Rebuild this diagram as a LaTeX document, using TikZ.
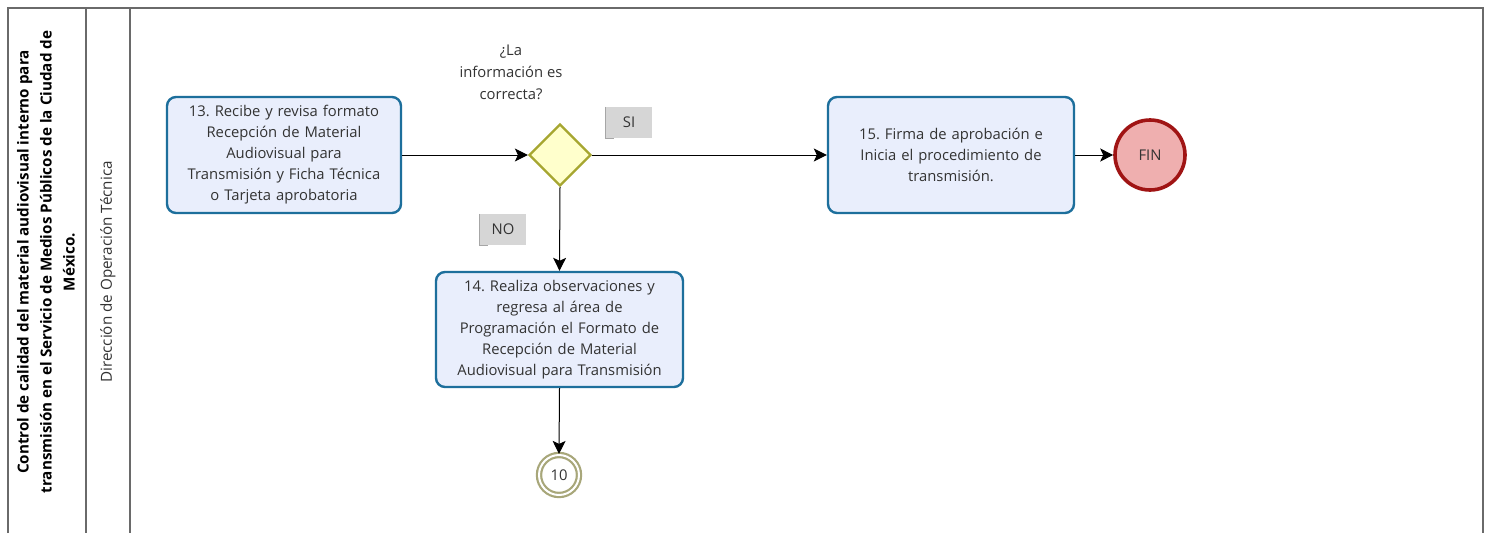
\documentclass[tikz,border=0pt]{standalone}
\usepackage{fontspec}
\setmainfont{Open Sans}
\usetikzlibrary{shapes.geometric,arrows.meta}
\frenchspacing
\definecolor{taskline}{HTML}{1D6F9C}
\definecolor{taskfill}{HTML}{E9EEFC}
\definecolor{gateline}{HTML}{A6A630}
\definecolor{gatefill}{HTML}{FFFFCC}
\definecolor{endline}{HTML}{A01414}
\definecolor{endfill}{HTML}{EFAFAF}
\definecolor{linkline}{HTML}{A8A77A}
\definecolor{txt}{HTML}{333333}
\definecolor{lanegray}{HTML}{6A6A6A}
\tikzset{
  task/.style={draw=taskline, fill=taskfill, line width=2.4pt, rounded corners=9pt,
    align=center, text=txt, font=\fontsize{14.8}{21}\selectfont, inner sep=2pt},
  gate/.style={diamond, draw=gateline, fill=gatefill, line width=2.2pt,
    minimum width=62pt, minimum height=62pt, inner sep=0pt},
  endev/.style={circle, draw=endline, fill=endfill, line width=3.6pt,
    minimum size=70pt, inner sep=0pt, text=txt, font=\fontsize{14.8}{16}\selectfont},
  linkev/.style={circle, draw=linkline, double=white, double distance=2pt,
    line width=2.2pt, fill=white, minimum size=40pt, inner sep=0pt,
    text=txt, font=\fontsize{14.8}{16}\selectfont},
  flag/.style={fill=black!16, text=txt, inner sep=0pt, minimum width=46pt,
    minimum height=31pt, font=\fontsize{14.8}{16}\selectfont},
  flow/.style={draw=black, line width=1pt, -{Stealth[length=13pt,width=13pt,inset=3pt]}},
  lane/.style={draw=lanegray, line width=1.4pt},
}
\begin{document}
\begin{tikzpicture}[x=1pt,y=-1pt]
\useasboundingbox (0,0) rectangle (1497,533);
\fill[white] (0,0) rectangle (1497,533);

% pool and lanes
\draw[lane] (8,533) -- (8,8) -- (1483,8) -- (1483,533);
\draw[lane] (86,8) -- (86,533);
\draw[lane] (130,8) -- (130,533);
\node[rotate=90, align=center, text=black, font=\bfseries\fontsize{15.2}{23}\selectfont]
  (pool) at (46,262) {Control de calidad del material audiovisual interno para\\
  transmisión en el Servicio de Medios Públicos de la Ciudad de\\México.};
\node[rotate=90, text=txt, font=\fontsize{15.2}{16}\selectfont]
  (lane1) at (108,272) {Dirección de Operación Técnica};

% activities
\node[task, minimum width=234pt, minimum height=116pt, text width=228pt] (t13) at (284,155)
  {13. Recibe y revisa formato\\Recepción de Material\\Audiovisual para\\Transmisión y Ficha Técnica\\o Tarjeta aprobatoria};
\node[gate] (g) at (560,155) {};
\node[align=center, text=txt, font=\fontsize{14.8}{22}\selectfont] (q) at (511,72)
  {¿La\\información es\\correcta?};
\node[task, minimum width=247pt, minimum height=115pt, text width=241pt] (t14) at (559.5,329.5)
  {14. Realiza observaciones y\\regresa al área de\\Programación el Formato de\\Recepción de Material\\Audiovisual para Transmisión};
\node[task, minimum width=246pt, minimum height=116pt, text width=240pt] (t15) at (951,155)
  {15. Firma de aprobación e\\Inicia el procedimiento de\\transmisión.};
\node[endev] (fin) at (1150,155) {FIN};
\node[linkev] (c10) at (559,475) {10};

% condition flags
\node[flag] (si) at (629,122.5) {SI};
\draw[black!35, line width=1.2pt] (si.north west) -- (si.south west) -- ([xshift=8pt]si.south west);
\node[flag] (no) at (503,229.5) {NO};
\draw[black!35, line width=1.2pt] (no.north west) -- (no.south west) -- ([xshift=8pt]no.south west);

% sequence flows
\draw[flow] (t13.east) -- (g.west);
\draw[flow] (g.east) -- (t15.west);
\draw[flow] (t15.east) -- (fin.west);
\draw[flow] (g.south) -- (t14.north);
\draw[flow] (t14.south) -- (c10.north);
\end{tikzpicture}
\end{document}
